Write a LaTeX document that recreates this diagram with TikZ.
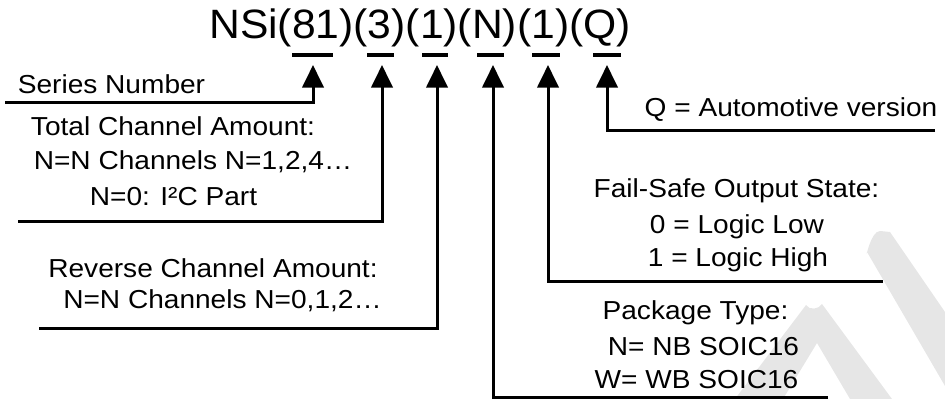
\documentclass[tikz,border=0pt]{standalone}
\usepackage{fontspec}
\setmainfont{Liberation Sans}[FakeStretch=1.08]
\newfontfamily\titlefont{Liberation Sans}[FakeStretch=1.04]
\usetikzlibrary{arrows.meta}
\definecolor{wm}{HTML}{E6E6E6}
\begin{document}
\begin{tikzpicture}[x=0.75pt,y=-0.75pt,
  conn/.style={line width=2.25pt, -{Triangle[length=17pt,width=16pt]}},
  uline/.style={line width=3pt},
  lbl/.style={inner sep=0pt, anchor=base, font=\fontsize{19.5pt}{23pt}\selectfont},
  ttl/.style={inner sep=0pt, anchor=base west, font=\titlefont\fontsize{30.75pt}{36pt}\selectfont}]
\useasboundingbox (0,0) rectangle (945,399);
% watermark
\fill[wm] (735,399) -- (806,305) to[out=-60,in=-120] (822,304) -- (892,399) -- (850,399) -- (817,343) -- (783,399) -- cycle;
\fill[wm] (867,252) to[out=-100,in=180] (880,231) -- (890,232) -- (945,312) -- (945,386) -- cycle;
% title
\node[ttl] (title) at (209,39) {NSi(81)(3)(1)(N)(1)(Q)};
% underlines
\foreach \a/\b [count=\i] in {292/333,367/394,422/448,477/504,532/560,593/621}
  \draw[uline] (\a,55) -- (\b,55);
% arrow tips
\coordinate (t1) at (313,65);
\coordinate (t2) at (382,65);
\coordinate (t3) at (437,65);
\coordinate (t4) at (493,65);
\coordinate (t5) at (548,65);
\coordinate (t6) at (607,65);
% free ends
\coordinate (e1) at (5,103);
\coordinate (e2) at (18,221);
\coordinate (e3) at (39,328);
\coordinate (e4) at (828,397);
\coordinate (e5) at (883,281);
\coordinate (e6) at (935,131);
\foreach \i in {1,...,6} \draw[conn] (e\i) -| (t\i);
% labels
\node[lbl] (sn) at (111.5,94) {Series Number};
\node[lbl] (tc1) at (173,136) {Total Channel Amount:};
\node[lbl] (tc2) at (193,170) {N=N Channels N=1,2,4…};
\node[lbl] (tc3) at (173.5,205) {N=0: I²C Part};
\node[lbl] (rc1) at (213,277) {Reverse Channel Amount:};
\node[lbl] (rc2) at (222.5,308) {N=N Channels N=0,1,2…};
\node[lbl] (qa) at (791,117) {Q = Automotive version};
\node[lbl] (fs1) at (736.5,197) {Fail-Safe Output State:};
\node[lbl] (fs2) at (737,233) {0 = Logic Low};
\node[lbl] (fs3) at (738,266) {1 = Logic High};
\node[lbl] (pt1) at (695.5,319) {Package Type:};
\node[lbl] (pt2) at (703.5,355) {N= NB SOIC16};
\node[lbl] (pt3) at (696.5,388) {W= WB SOIC16};
\end{tikzpicture}
\end{document}
